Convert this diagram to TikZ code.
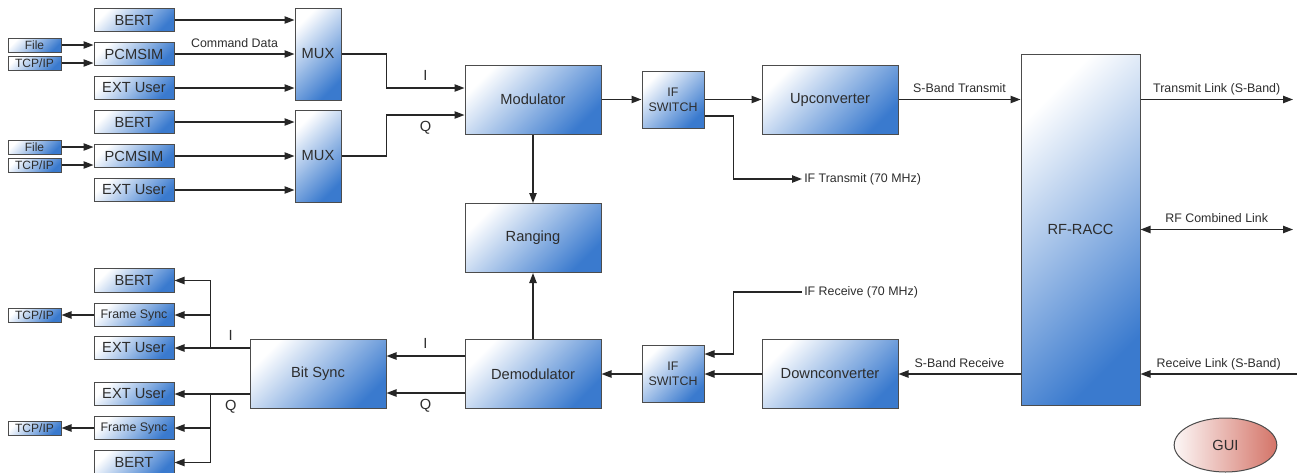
\documentclass[tikz,border=0pt]{standalone}
\usepackage{fontspec}
\setmainfont{Liberation Sans}
\usetikzlibrary{arrows.meta, calc, shapes.geometric}

\definecolor{boxblue}{RGB}{58,122,206}
\definecolor{guired}{RGB}{212,116,104}
\definecolor{txtgray}{RGB}{45,45,45}

\begin{document}
\begin{tikzpicture}[x=0.75pt, y=-0.75pt, text=txtgray, font=\fontsize{11}{12}\selectfont,
    >={Triangle[length=7.5pt, width=5.5pt]},
    blk/.style={draw=black!70, line width=0.75pt, left color=white, right color=boxblue,
                shading angle=45, inner sep=0pt, align=center},
    big/.style={blk, minimum width=102pt, minimum height=51.75pt},
    unit/.style={blk, minimum width=60pt, minimum height=17.5pt},
    port/.style={blk, minimum width=39.75pt, minimum height=10.5pt, font=\fontsize{9}{10}\selectfont},
    lbl/.style={font=\fontsize{9.3}{10}\selectfont, inner sep=1.5pt, text depth=2pt},
    iq/.style={inner sep=3pt},
    conn/.style={line width=1pt, draw=black!85}]
    \useasboundingbox (0,0) rectangle (1297,472);

    % transmit inputs
    \node[unit] (bertA) at (134,20) {BERT};
    \node[unit] (pcmA) at (134,54) {PCMSIM};
    \node[unit] (extA) at (134,88) {EXT User};
    \node[port] (fileA) at (34.5,45) {File};
    \node[port] (tcpA) at (34.5,63) {TCP/IP};
    \node[blk, minimum width=34.5pt, minimum height=69pt] (muxA) at (318,54) {MUX};

    \node[unit] (bertB) at (134,122) {BERT};
    \node[unit] (pcmB) at (134,156) {PCMSIM};
    \node[unit] (extB) at (134,190) {EXT User};
    \node[port] (fileB) at (34.5,147) {File};
    \node[port] (tcpB) at (34.5,165) {TCP/IP};
    \node[blk, minimum width=34.5pt, minimum height=69pt] (muxB) at (318,156) {MUX};

    % main chain
    \node[big] (mod) at (533,99.5) {Modulator};
    \node[blk, minimum width=46.5pt, minimum height=42.75pt, font=\fontsize{9.3}{11}\selectfont] (ifTx) at (673,99.5) {IF\\SWITCH};
    \node[big] (upc) at (830,99.5) {Upconverter};
    \node[big] (rng) at (533,238) {Ranging};
    \node[big] (demod) at (533,374) {Demodulator};
    \node[blk, minimum width=46.5pt, minimum height=42.75pt, font=\fontsize{9.3}{11}\selectfont] (ifRx) at (673,374) {IF\\SWITCH};
    \node[big] (dnc) at (830,374) {Downconverter};
    \node[blk, minimum width=89.25pt, minimum height=263.25pt] (racc) at (1080.5,229.5) {RF-RACC};
    \node[big] (bsync) at (318,374) {Bit Sync};

    % receive outputs
    \node[unit] (bertI) at (134,280.5) {BERT};
    \node[unit, font=\fontsize{9.3}{10}\selectfont] (fsI) at (134,315) {Frame Sync};
    \node[unit] (extI) at (134,348) {EXT User};
    \node[unit] (extQ) at (134,394) {EXT User};
    \node[unit, font=\fontsize{9.3}{10}\selectfont] (fsQ) at (134,428) {Frame Sync};
    \node[unit] (bertQ) at (134,462.5) {BERT};
    \node[port] (tcpI) at (34.5,315) {TCP/IP};
    \node[port] (tcpQ) at (34.5,428) {TCP/IP};

    \node[ellipse, draw=black!70, line width=0.75pt, left color=guired!6, right color=guired,
          minimum width=77pt, minimum height=40.5pt] (gui) at (1225.5,445) {GUI};

    \node[lbl, anchor=west] (iftxlbl) at (802,179) {IF Transmit (70 MHz)};
    \node[lbl, anchor=west] (ifrxlbl) at (802,292) {IF Receive (70 MHz)};
    \coordinate (txout) at (1293,99.5);
    \coordinate (rfout) at (1293,229.5);
    \coordinate (rxin) at (1297,374);

    \draw[conn, ->] (fileA.east) -- (fileA.east -| pcmA.west);
    \draw[conn, ->] (tcpA.east) -- (tcpA.east -| pcmA.west);
    \draw[conn, ->] (bertA.east) -- (bertA.east -| muxA.west);
    \draw[conn, ->] (pcmA.east) -- (pcmA.east -| muxA.west) node[midway, above=1pt, lbl] {Command Data};
    \draw[conn, ->] (extA.east) -- (extA.east -| muxA.west);
    \draw[conn, ->] (fileB.east) -- (fileB.east -| pcmB.west);
    \draw[conn, ->] (tcpB.east) -- (tcpB.east -| pcmB.west);
    \draw[conn, ->] (bertB.east) -- (bertB.east -| muxB.west);
    \draw[conn, ->] (pcmB.east) -- (pcmB.east -| muxB.west);
    \draw[conn, ->] (extB.east) -- (extB.east -| muxB.west);

    \draw[conn, ->] (muxA.east) -- ++(45,0) |- ($(mod.west)+(0,-11.5)$) node[pos=0.75, above=2pt, iq] {I};
    \draw[conn, ->] (muxB.east) -- ++(45,0) |- ($(mod.west)+(0,15.5)$) node[pos=0.75, below=1pt, iq] {Q};

    \draw[conn, ->] (mod.east) -- (ifTx.west);
    \draw[conn, ->] (ifTx.east) -- (upc.west);
    \draw[conn, ->] ($(ifTx.east)+(0,16.5)$) -- ++(29,0) |- (iftxlbl.west);
    \draw[conn, ->] (mod.south) -- (rng.north);
    \draw[conn, ->] (demod.north) -- (rng.south);
    \draw[conn, ->] (upc.east) -- (upc.east -| racc.west) node[midway, above=1pt, lbl] {S-Band Transmit};
    \draw[conn, ->] (upc.east -| racc.east) -- (txout) node[midway, above=1pt, lbl] {Transmit Link (S-Band)};
    \draw[conn, <->] (racc.east) -- (rfout) node[midway, above=1pt, lbl] {RF Combined Link};
    \draw[conn, ->] (rxin) -- (rxin -| racc.east) node[midway, above=1pt, lbl] {Receive Link (S-Band)};
    \draw[conn, ->] (rxin -| racc.west) -- (dnc.east) node[midway, above=1pt, lbl] {S-Band Receive};
    \draw[conn, ->] (dnc.west) -- (ifRx.east);
    \draw[conn, ->] (ifrxlbl.west) -| ($(ifRx.east)+(29,-20)$) -- ($(ifRx.east)+(0,-20)$);
    \draw[conn, ->] (ifRx.west) -- (demod.east);
    \draw[conn, ->] ($(demod.west)+(0,-18)$) -- ($(bsync.east)+(0,-18)$) node[midway, above=2pt, iq] {I};
    \draw[conn, ->] ($(demod.west)+(0,19)$) -- ($(bsync.east)+(0,19)$) node[midway, below=1pt, iq] {Q};

    \draw[conn, ->] ($(bsync.west)+(0,-26)$) -- (extI.east) node[pos=0.25, above=2pt, iq] {I};
    \coordinate (splitI) at ($(extI.east)+(36,0)$);
    \draw[conn, ->] (splitI) |- (fsI.east);
    \draw[conn, ->] (splitI) |- (bertI.east);
    \draw[conn, ->] ($(bsync.west)+(0,20)$) -- (extQ.east) node[pos=0.25, below=1pt, iq] {Q};
    \coordinate (splitQ) at ($(extQ.east)+(36,0)$);
    \draw[conn, ->] (splitQ) |- (fsQ.east);
    \draw[conn, ->] (splitQ) |- (bertQ.east);
    \draw[conn, ->] (fsI.west) -- (tcpI.east);
    \draw[conn, ->] (fsQ.west) -- (tcpQ.east);
\end{tikzpicture}
\end{document}
